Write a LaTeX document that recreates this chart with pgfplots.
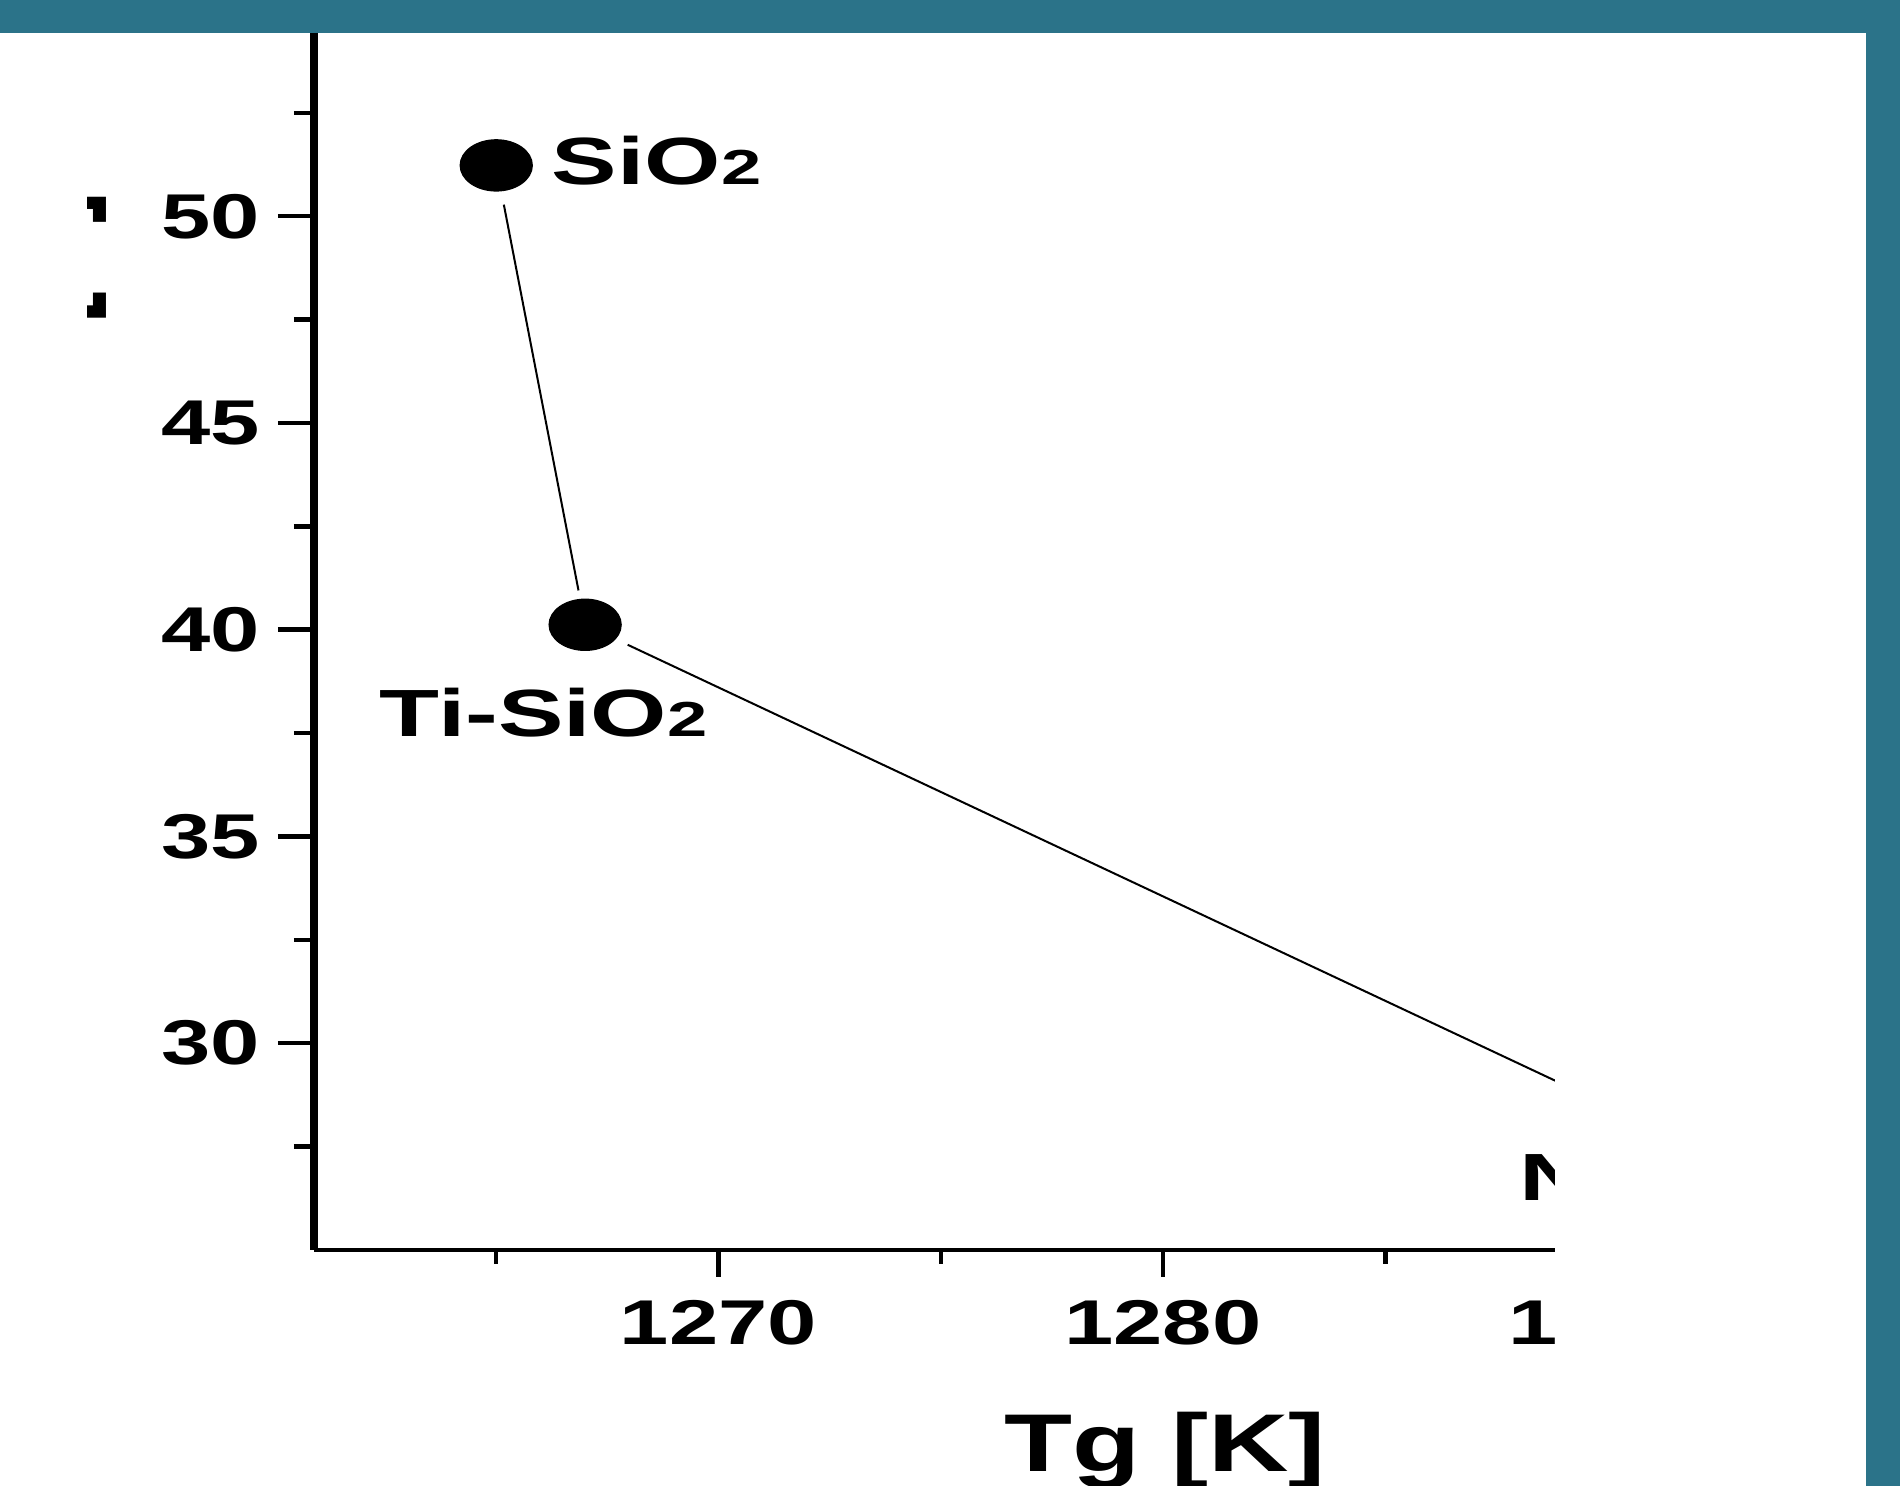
\documentclass[border=0pt]{standalone}
\usepackage{fontspec}
\setmainfont{Liberation Sans}
\usepackage{pgfplots}
\pgfplotsset{compat=1.18}
\definecolor{frame}{RGB}{43,115,137}
\begin{document}
\begin{tikzpicture}[x=0.1mm,y=0.1mm]
\useasboundingbox (0,0) rectangle (1900,1486);
\clip (0,0) rectangle (1900,1486);
\fill[white] (0,0) rectangle (1900,1486);
\begin{axis}[
  at={(31.4mm,23.6mm)}, anchor=south west,
  scale only axis, width=151.575mm, height=124.05mm,
  xmin=1260.9, xmax=1295, ymin=25, ymax=55,
  axis lines=left, axis line style={-},
  x axis line style={line width=0.42mm},
  y axis line style={line width=0.75mm},
  tick align=outside,
  xtick={1270,1280,1290}, minor xtick={1265,1275,1285,1295},
  ytick={30,35,40,45,50}, minor ytick={27.5,32.5,37.5,42.5,47.5,52.5},
  tick style={black, line width=0.45mm},
  xtick style={/pgfplots/major tick length=2.7mm,/pgfplots/minor tick length=1.4mm},
  ytick style={/pgfplots/major tick length=3.6mm,/pgfplots/minor tick length=2mm},
  /pgf/number format/assume math mode=true,
  /pgf/number format/set thousands separator={},
  yticklabel style={font=\bfseries\fontsize{18}{18}\selectfont, xshift=-2.2mm, xscale=1.4},
  xticklabel style={font=\bfseries\fontsize{18}{18}\selectfont, yshift=-2.3mm, xscale=1.4},
  xlabel={Tg [K]},
  xlabel style={at={(axis description cs:0.5615,0)}, anchor=base, yshift=-22.2mm,
    font=\bfseries\fontsize{23.3}{24}\selectfont, xscale=1.36, inner sep=0pt},
  clip=true,
]
\addplot[black, line width=0.2mm, shorten <=4mm, shorten >=3.5mm] coordinates {(1265,51.23) (1267,40.12)};
\addplot[black, line width=0.2mm, shorten <=4.7mm, shorten >=4mm] coordinates {(1267,40.12) (1290,28.5)};
\addplot[only marks, mark=*, mark size=2.55mm, mark options={black, fill=black, xscale=1.41}] coordinates {(1265,51.23) (1267,40.12) (1290,28.5)};
\node[anchor=base west, inner sep=0pt, xscale=1.47, font=\bfseries\fontsize{19}{19}\selectfont] at (axis cs:1266.23,50.77) {SiO{\fontsize{14}{14}\selectfont 2}};
\node[anchor=base west, inner sep=0pt, xscale=1.47, font=\bfseries\fontsize{19}{19}\selectfont] at (axis cs:1262.36,37.42) {Ti-SiO{\fontsize{14}{14}\selectfont 2}};
\node[anchor=base west, inner sep=0pt, xscale=1.47, font=\bfseries\fontsize{19}{19}\selectfont] at (axis cs:1288.0,26.2) {Nb-SiO{\fontsize{14}{14}\selectfont 2}};
\end{axis}
\fill[white] (1555,0) rectangle (1866,1452);
\fill[frame] (0,1452.5) rectangle (1900,1486);
\fill[frame] (1866,0) rectangle (1900,1486);
\begin{scope}
\clip (87,0) rectangle (300,1452);
\node[xscale=1.47, rotate=90, anchor=base east, inner sep=0pt, font=\bfseries\fontsize{27}{27}\selectfont] at (78,1295) {ΔT [K]};
\end{scope}
\end{tikzpicture}
\end{document}
